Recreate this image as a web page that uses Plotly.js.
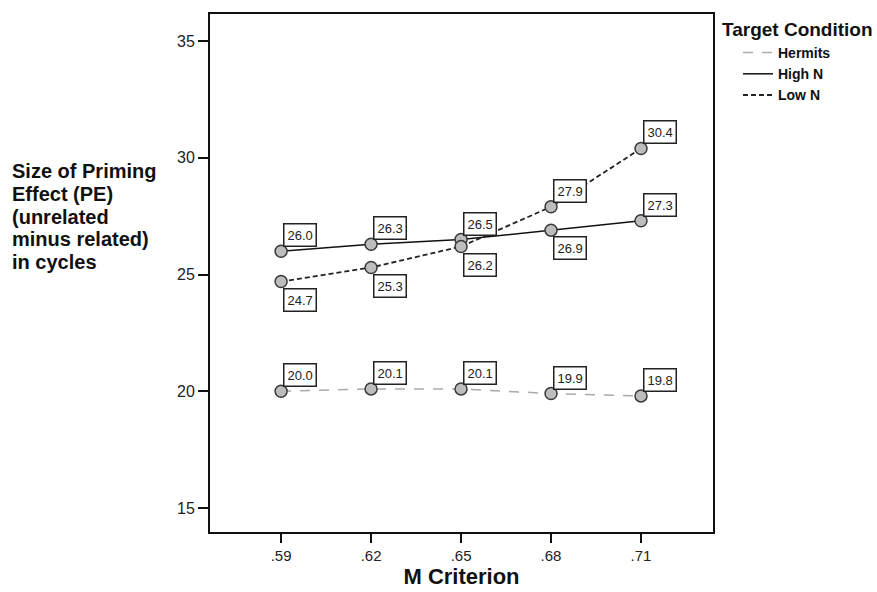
<!DOCTYPE html>
<html>
<head>
<meta charset="utf-8">
<script src="https://cdn.plot.ly/plotly-3.0.1.min.js"></script>
<style>html,body{margin:0;padding:0;background:#fff;}#chart{width:877px;height:592px;}</style>
</head>
<body>
<div id="chart"></div>
<script>
const criteria = [0.59, 0.62, 0.65, 0.68, 0.71];
const criteriaLabels = ['.59', '.62', '.65', '.68', '.71'];
const hermits = [20.0, 20.1, 20.1, 19.9, 19.8];
const highN = [26.0, 26.3, 26.5, 26.9, 27.3];
const lowN = [24.7, 25.3, 26.2, 27.9, 30.4];
const seriesNames = ['Hermits', 'High N', 'Low N'];
const yTitleLines = ['Size of Priming', 'Effect (PE)', '(unrelated', 'minus related)', 'in cycles'];

const FONT = 'Arial, Liberation Sans, sans-serif';
const marker = {size: 12, color: '#bdbdbd', line: {color: '#3a3a3a', width: 1.5}};
const lineStyles = [
  {color: '#aaaaaa', width: 1.5, dash: '10px,9px'},
  {color: '#111111', width: 1.5},
  {color: '#222222', width: 1.8, dash: '5px,3px'}
];
const seriesData = [hermits, highN, lowN];

const traces = [];
seriesData.forEach((ys, k) => {
  traces.push({x: criteria, y: ys, name: seriesNames[k], mode: 'lines+markers',
    line: lineStyles[k], marker: marker, showlegend: false, legendgroup: 'g' + k});
});
// legend entries (lines only, as in the reference legend)
seriesData.forEach((ys, k) => {
  traces.push({x: [null], y: [null], name: seriesNames[k], mode: 'lines',
    line: lineStyles[k], showlegend: true, legendgroup: 'g' + k});
});

const annotations = [];
function addLabel(x, v, below) {
  annotations.push({
    x: x, y: v, xref: 'x', yref: 'y', text: v.toFixed(1), showarrow: false,
    xanchor: 'left', yanchor: below ? 'top' : 'bottom',
    xshift: 2, yshift: below ? -6 : 4,
    font: {family: FONT, size: 13, color: '#222'},
    bgcolor: '#ffffff', bordercolor: '#222', borderwidth: 1.5, borderpad: 3
  });
}
criteria.forEach((x, i) => {
  addLabel(x, hermits[i], false);
  const hBelow = lowN[i] > highN[i] && lowN[i] - highN[i] < 2;
  const lBelow = highN[i] > lowN[i] && highN[i] - lowN[i] < 2;
  addLabel(x, highN[i], hBelow);
  addLabel(x, lowN[i], lBelow);
});

// y-axis title, drawn horizontally at the left like the reference
const W = 503, H = 518, L = 210, T = 14;
yTitleLines.forEach((t, i) => {
  const py = 171 + i * 22.8;
  annotations.push({
    xref: 'paper', yref: 'paper', x: (10 - L) / W, y: 1 - (py - T) / H,
    xanchor: 'left', yanchor: 'middle', align: 'left', showarrow: false, text: t,
    font: {family: FONT, size: 20, color: '#111', weight: 'bold'}
  });
});
// legend title
annotations.push({
  xref: 'paper', yref: 'paper', x: (720 - L) / W, y: 1 - (29 - T) / H,
  xanchor: 'left', yanchor: 'middle', showarrow: false, text: 'Target Condition',
  font: {family: FONT, size: 19, color: '#111', weight: 'bold'}
});

const layout = {
  width: 877, height: 592,
  margin: {l: L, r: 877 - L - W, t: T, b: 592 - T - H},
  paper_bgcolor: '#fff', plot_bgcolor: '#fff',
  showlegend: true,
  font: {family: FONT, color: '#222'},
  xaxis: {
    range: [0.5663, 0.734], tickvals: criteria, ticktext: criteriaLabels,
    showgrid: false, zeroline: false, showline: true, mirror: true,
    linecolor: '#111', linewidth: 2, ticks: 'outside', ticklen: 9, tickwidth: 2, tickcolor: '#111',
    tickfont: {size: 15, color: '#222'},
    title: {text: 'M Criterion', font: {size: 22, weight: 'bold', color: '#111'}, standoff: 6}
  },
  yaxis: {
    range: [13.97, 36.16], tickvals: [15, 20, 25, 30, 35],
    showgrid: false, zeroline: false, showline: true, mirror: true,
    linecolor: '#111', linewidth: 2, ticks: 'outside', ticklen: 10, tickwidth: 2, tickcolor: '#111',
    tickfont: {size: 16, color: '#222'}
  },
  legend: {
    x: (738 - L) / W, y: 1 - (37 - T) / H, xanchor: 'left', yanchor: 'top',
    font: {family: FONT, size: 14, weight: 'bold', color: '#111'},
    tracegroupgap: 0, bgcolor: 'rgba(0,0,0,0)', borderwidth: 0
  },
  annotations: annotations
};

Plotly.newPlot('chart', traces, layout, {displayModeBar: false, staticPlot: true});
</script>
</body>
</html>
